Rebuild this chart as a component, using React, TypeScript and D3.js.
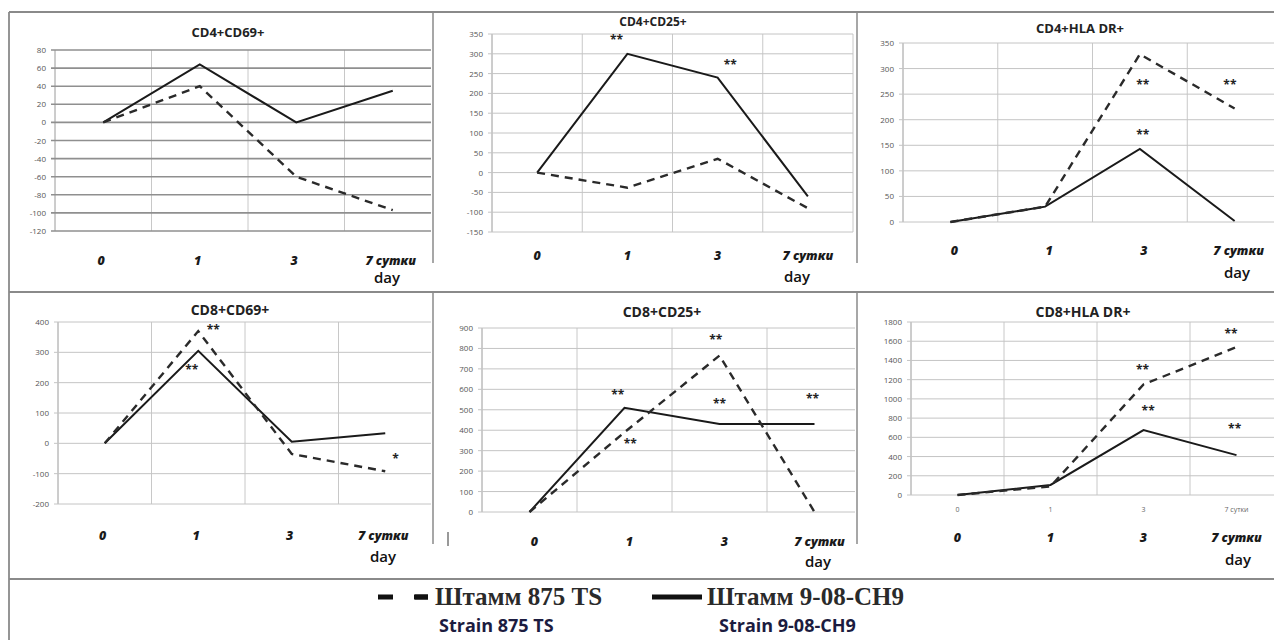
import React from "react";
import * as d3 from "d3";

// ---------- data ----------
const categories = ["0", "1", "3", "7 сутки"];
const panelTitles = ["CD4+CD69+", "CD4+CD25+", "CD4+HLA DR+", "CD8+CD69+", "CD8+CD25+", "CD8+HLA DR+"];
// dashed line: Штамм 875 TS
const strain875 = [
  [0, 40, -60, -97],
  [0, -38, 35, -90],
  [0, 30, 328, 222],
  [0, 370, -35, -92],
  [0, 390, 765, 0],
  [0, 90, 1150, 1540],
];
// solid line: Штамм 9-08-CH9
const strain908 = [
  [0, 64, 0, 35],
  [0, 300, 240, -60],
  [0, 30, 143, 2],
  [0, 305, 5, 33],
  [0, 510, 430, 430],
  [0, 105, 675, 415],
];
const yDomains = [
  [-120, 80],
  [-150, 350],
  [0, 350],
  [-200, 400],
  [0, 900],
  [0, 1800],
];
const yTickSteps = [20, 50, 50, 100, 100, 200];
// significance marks: position index (category units) and value
const sigMarks = [
  [],
  [{ i: 0.88, v: 340, t: "**" }, { i: 2.14, v: 277, t: "**" }],
  [{ i: 2.03, v: 272, t: "**" }, { i: 2.03, v: 174, t: "**" }, { i: 2.95, v: 272, t: "**" }],
  [{ i: 1.16, v: 380, t: "**" }, { i: 0.93, v: 248, t: "**" }, { i: 3.11, v: -45, t: "*" }],
  [
    { i: 0.93, v: 582, t: "**" },
    { i: 1.06, v: 342, t: "**" },
    { i: 1.96, v: 851, t: "**" },
    { i: 2.0, v: 538, t: "**" },
    { i: 2.98, v: 563, t: "**" },
  ],
  [
    { i: 1.99, v: 1321, t: "**" },
    { i: 2.05, v: 895, t: "**" },
    { i: 2.94, v: 1696, t: "**" },
    { i: 2.98, v: 708, t: "**" },
  ],
];
const dayLabel = "day";
const legendRu = ["Штамм 875 TS", "Штамм 9-08-CH9"];
const legendEn = ["Strain 875 TS", "Strain 9-08-CH9"];

// ---------- layout ----------
const layout = [
  { clip: [10, 431], left: 55, right: 441, top: 50, bottom: 231, tx: 228, ty: 37, tfs: 13, catY: 265, catDx: -2, dayX: 387, dayY: 283, hGrid: "#8f8f8f", hW: 1.6 },
  { clip: [434, 855], left: 492, right: 853, top: 34, bottom: 232, tx: 653, ty: 26, tfs: 12, catY: 260, catDx: 0, dayX: 797, dayY: 282, hGrid: "#c4c4c4", hW: 1 },
  { clip: [858, 1274], left: 903, right: 1282, top: 43, bottom: 222, tx: 1080, ty: 33, tfs: 13, catY: 255, catDx: 4, dayX: 1237, dayY: 278, hGrid: "#c4c4c4", hW: 1 },
  { clip: [10, 431], left: 58, right: 432, top: 322, bottom: 504, tx: 230, ty: 315, tfs: 14, catY: 540, catDx: -2, dayX: 383, dayY: 562, hGrid: "#c4c4c4", hW: 1 },
  { clip: [434, 855], left: 482, right: 862, top: 328, bottom: 512, tx: 662, ty: 317, tfs: 14, catY: 546, catDx: 5, dayX: 818, dayY: 567, hGrid: "#c4c4c4", hW: 1 },
  { clip: [858, 1274], left: 911, right: 1283, top: 322, bottom: 495, tx: 1083, ty: 317, tfs: 14, catY: 542, catDx: 0, dayX: 1238, dayY: 565, hGrid: "#c4c4c4", hW: 1 },
];

const SANS = "'Open Sans', 'DejaVu Sans', sans-serif";
const SERIF = "'Liberation Serif', 'DejaVu Serif', serif";

function Panel({ idx }: { idx: number }) {
  const L = layout[idx];
  const x = d3.scaleLinear().domain([-0.5, 3.5]).range([L.left, L.right]);
  const y = d3.scaleLinear().domain(yDomains[idx]).range([L.bottom, L.top]);
  const ticks = d3.range(yDomains[idx][0], yDomains[idx][1] + 0.001, yTickSteps[idx]);
  const line = d3
    .line<number>()
    .x((_, i) => x(i))
    .y((d) => y(d));
  const clipId = `clip${idx}`;
  return (
    <g>
      <defs>
        <clipPath id={clipId}>
          <rect x={L.clip[0]} y={0} width={L.clip[1] - L.clip[0]} height={640} />
        </clipPath>
      </defs>
      <g clipPath={`url(#${clipId})`}>
        <text x={L.tx} y={L.ty} textAnchor="middle" fontFamily={SANS} fontWeight={700} fontSize={L.tfs} fill="#222">
          {panelTitles[idx]}
        </text>
        {[0, 1, 2, 3, 4].map((k) => (
          <line key={"v" + k} x1={x(k - 0.5)} x2={x(k - 0.5)} y1={L.top} y2={L.bottom} stroke={k === 0 ? "#9a9a9a" : "#c8c8c8"} strokeWidth={1} />
        ))}
        {ticks.map((t) => (
          <g key={"h" + t}>
            <line x1={L.left - 4} x2={L.right} y1={y(t)} y2={y(t)} stroke={L.hGrid} strokeWidth={L.hW} />
            <text x={L.left - 9} y={y(t) + 3} textAnchor="end" fontFamily={SANS} fontSize={8} fill="#555">
              {t}
            </text>
          </g>
        ))}
        <path d={line(strain908[idx]) || ""} fill="none" stroke="#1a1a1a" strokeWidth={2} />
        <path d={line(strain875[idx]) || ""} fill="none" stroke="#2a2a2a" strokeWidth={2.4} strokeDasharray="8,6" />
        {sigMarks[idx].map((m, k) => (
          <text key={"s" + k} x={x(m.i)} y={y(m.v) + 6} textAnchor="middle" fontFamily={SANS} fontWeight={700} fontSize={12} fill="#222">
            {m.t}
          </text>
        ))}
        {idx === 5 &&
          categories.map((c, k) => (
            <text key={"sc" + k} x={x(k)} y={L.bottom + 17} textAnchor="middle" fontFamily={SANS} fontSize={7} fill="#666">
              {c}
            </text>
          ))}
        {categories.map((c, k) => (
          <text key={"c" + k} x={x(k) + L.catDx} y={L.catY} textAnchor="middle" fontFamily={SANS} fontWeight={800} fontStyle="italic" fontSize={12.5} fill="#1a1a1a">
            {c}
          </text>
        ))}
        <text x={L.dayX} y={L.dayY} textAnchor="middle" fontFamily={SANS} fontWeight={600} fontSize={15} fill="#111">
          {dayLabel}
        </text>
      </g>
    </g>
  );
}

export default function App() {
  const W = 1274;
  const H = 640;
  const frame = "#8a8a8a";
  return (
    <svg width={W} height={H} style={{ position: "absolute", left: 0, top: 0, background: "#fff" }}>
      <rect x={0} y={0} width={W} height={H} fill="#fff" />
      <line x1={9} x2={W} y1={12} y2={12} stroke={frame} strokeWidth={1.8} />
      <line x1={9} x2={9} y1={12} y2={H} stroke={frame} strokeWidth={1.8} />
      <line x1={9} x2={W} y1={292} y2={292} stroke={frame} strokeWidth={1.8} />
      <line x1={9} x2={W} y1={579} y2={579} stroke={frame} strokeWidth={1.8} />
      <line x1={433} x2={433} y1={12} y2={263} stroke={frame} strokeWidth={1.5} />
      <line x1={857} x2={857} y1={12} y2={263} stroke={frame} strokeWidth={1.5} />
      <line x1={433} x2={433} y1={292} y2={544} stroke={frame} strokeWidth={1.5} />
      <line x1={857} x2={857} y1={292} y2={544} stroke={frame} strokeWidth={1.5} />
      <line x1={448} x2={448} y1={532} y2={546} stroke="#555" strokeWidth={1.2} />
      {[0, 1, 2, 3, 4, 5].map((i) => (
        <Panel key={i} idx={i} />
      ))}
      {/* legend */}
      <line x1={378} x2={428} y1={597} y2={597} stroke="#111" strokeWidth={5} strokeDasharray="15,21" />
      <line x1={415} x2={428} y1={597} y2={597} stroke="#111" strokeWidth={5} />
      <text x={435} y={605} fontFamily={SERIF} fontWeight={700} fontSize={25} fill="#2a2a2a">
        {legendRu[0]}
      </text>
      <line x1={652} x2={702} y1={597} y2={597} stroke="#111" strokeWidth={5} />
      <text x={707} y={605} fontFamily={SERIF} fontWeight={700} fontSize={25} fill="#2a2a2a">
        {legendRu[1]}
      </text>
      <text x={439} y={632} fontFamily={SANS} fontWeight={700} fontSize={18} fill="#1c1c40">
        {legendEn[0]}
      </text>
      <text x={719} y={632} fontFamily={SANS} fontWeight={700} fontSize={18} fill="#1c1c40">
        {legendEn[1]}
      </text>
    </svg>
  );
}
